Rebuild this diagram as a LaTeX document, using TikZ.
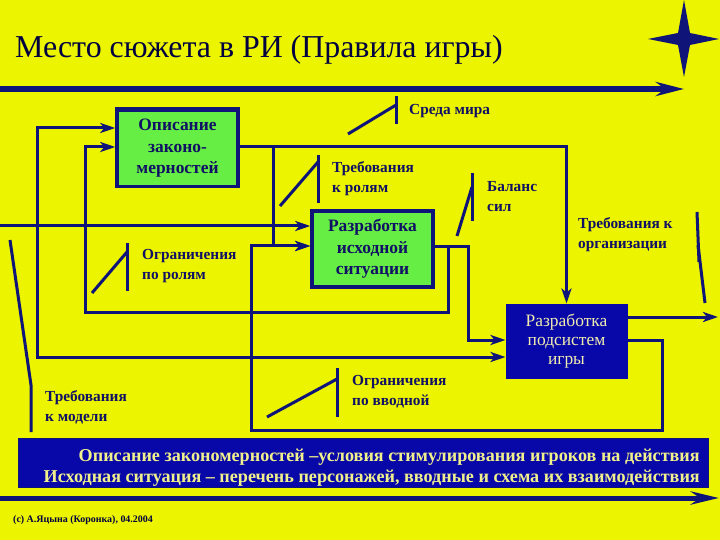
\documentclass[tikz,border=0pt]{standalone}
\usepackage{fontspec}
\setmainfont{Liberation Serif}
\usetikzlibrary{arrows.meta}
\definecolor{bgy}{RGB}{236,244,0}
\definecolor{navy}{RGB}{14,20,120}
\definecolor{bandblue}{RGB}{8,8,168}
\definecolor{grn}{RGB}{102,238,68}
\definecolor{titletxt}{RGB}{0,0,64}
\definecolor{lbltxt}{RGB}{16,16,100}
\definecolor{bandtxt}{RGB}{240,240,140}
\definecolor{creamtxt}{RGB}{240,235,175}
\begin{document}
\begin{tikzpicture}[x=1bp,y=-1bp,
  conn/.style={draw=navy, line width=3bp},
  arr/.style={conn, -{Stealth[length=15bp,width=10bp,inset=4bp]}},
  arrboth/.style={conn, {Stealth[length=15bp,width=10bp,inset=4bp]}-{Stealth[length=15bp,width=10bp,inset=4bp]}},
  tick/.style={draw=navy, line width=3bp},
  lbl/.style={font=\bfseries\fontsize{15.4}{20}\selectfont, text=lbltxt, align=left, anchor=west, inner sep=0pt},
  gbox/.style={draw=navy, line width=3.5bp, fill=grn, minimum width=121bp, minimum height=76bp, align=center, text=lbltxt, font=\bfseries\fontsize{17.5}{21.5}\selectfont, inner sep=0pt},
  bbox/.style={draw=bandblue, line width=1bp, fill=bandblue, minimum width=121bp, minimum height=74bp, align=center, text=creamtxt, font=\fontsize{17.5}{19}\selectfont, inner sep=0pt}
]
\useasboundingbox (0,0) rectangle (720,540);
\fill[bgy] (0,0) rectangle (720,540);

% title and star
\node[anchor=west, inner sep=0pt, text=titletxt, font=\fontsize{32}{36}\selectfont] (title) at (15,50) {Место сюжета в РИ (Правила игры)};
\fill[navy] (684,0) -- (690,33) -- (719,39) -- (690,45) -- (684,77) -- (678,45) -- (648,39) -- (678,33) -- cycle;

% boundary arrows
\coordinate (t0) at (0,89);
\coordinate (t1) at (684,89);
\draw[navy, line width=6bp, -{Stealth[length=28bp,width=14bp,inset=9bp]}] (t0) -- (t1);
\coordinate (b0) at (0,498);
\coordinate (b1) at (719,498);
\draw[navy, line width=5bp, -{Stealth[length=28bp,width=13bp,inset=9bp]}] (b0) -- (b1);

% boxes
\node[gbox] (box1) at (177.5,148.5) {Описание\\законо-\\мерностей};
\draw[navy, line width=3bp] ([yshift=0.5bp]box1.north west) -- ([yshift=0.5bp]box1.north east);
\node[gbox] (box2) at (372.5,249) {Разработка\\исходной\\ситуации};
\node[bbox] (box3) at (566.5,341) {Разработка\\подсистем\\игры};

% connectors
\draw[arrboth] (box1.west|-0,128) -| (37,357) -- (box3.west|-0,357);
\draw[arr] (box2.east|-0,247) -| (448,312) -| (85,147) -- (box1.west|-0,147);
\draw[arr] (box2.east|-0,247) -| (468,340) -- (box3.west|-0,340);
\draw[arr] (box1.east|-0,147) -| (box3.north);
\coordinate (j1) at (273,147);
\draw[arr] (j1) |- (box2.west|-0,246);
\draw[arr] (box3.east|-0,340) -| (662,430) -| (251,246) -- (box2.west|-0,246);
\coordinate (outR) at (718,317);
\draw[arr] (box3.east|-0,317) -- (outR);
\coordinate (inL) at (0,226);
\draw[arr] (inL) -- (box2.west|-0,226);

% label ticks
\draw[tick] (348,134) -- (396,105);
\draw[tick] (396,96) -- (396,124);
\draw[tick] (280,206) -- (318,162);
\draw[tick] (318,155) -- (318,203);
\draw[tick] (92,293) -- (127,252);
\draw[tick] (127,243) -- (127,291);
\draw[tick] (457,236) -- (472,187);
\draw[tick] (472,173) -- (472,221);
\draw[tick] (267,417) -- (337,379);
\draw[tick] (337,368) -- (337,417);
\draw[tick] (10,240) -- (31,385) -- (31,432);
\draw[tick] (697,212) -- (699,262);
\draw[tick] (698,245) -- (705,303);

% labels
\node[lbl] (l1) at (409,111) {Среда мира};
\node[lbl] (l2) at (332,179) {Требования\\к ролям};
\node[lbl] (l3) at (487,197) {Баланс\\сил};
\node[lbl] (l4) at (578,234.5) {Требования к\\организации};
\node[lbl] (l5) at (142,266) {Ограничения\\по ролям};
\node[lbl] (l6) at (352,391.5) {Ограничения\\по вводной};
\node[lbl] (l7) at (45,407.5) {Требования\\к модели};

% band
\node[fill=bandblue, draw=navy, line width=1bp, minimum width=690bp, minimum height=49bp, anchor=north west, inner sep=0pt] (band) at (18,438) {};
\node[anchor=east, align=right, inner sep=0pt, text=bandtxt, font=\bfseries\fontsize{18.2}{21}\selectfont] (bandtext) at (700,467.5) {Описание закономерностей –условия стимулирования игроков на действия\\Исходная ситуация – перечень персонажей, вводные и схема их взаимодействия};

% footer
\node[anchor=west, inner sep=0pt, text=titletxt, font=\bfseries\fontsize{10}{11}\selectfont] (footer) at (13,520) {(c) А.Яцына (Коронка), 04.2004};
\end{tikzpicture}
\end{document}
